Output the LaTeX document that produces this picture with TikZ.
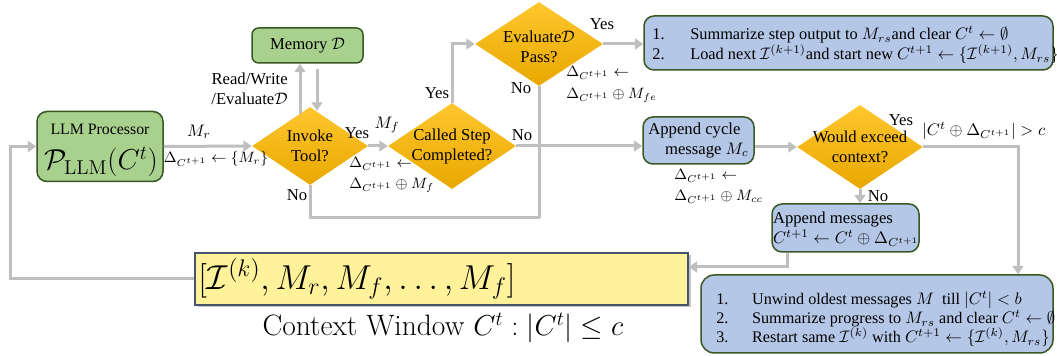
\documentclass[tikz,border=0pt]{standalone}
\usepackage{fontspec}
\newfontfamily\tnr{Liberation Serif}
\usetikzlibrary{shapes.geometric,arrows.meta,calc,shadows}
\definecolor{lncol}{HTML}{BFBFBF}
\definecolor{gfill}{HTML}{A9D18E}
\definecolor{gdraw}{HTML}{385723}
\definecolor{bfill}{HTML}{B4C7E7}
\definecolor{yfill}{HTML}{FFF29B}
\definecolor{ydraw}{HTML}{44546A}
\definecolor{dtop}{HTML}{FFC62E}
\definecolor{dbot}{HTML}{E8A800}
\tikzset{
  arr/.style={draw=lncol, line width=1.8pt, -{Triangle[length=5pt,width=6.5pt]}},
  plain/.style={draw=lncol, line width=1.8pt},
  lbl/.style={font=\tnr, inner sep=0pt},
  dlt/.style={font=\small, inner sep=0pt, anchor=west},
  dia/.style={diamond, shade, top color=dtop, bottom color=dbot, inner sep=0pt},
  dtext/.style={font=\tnr, align=center},
  gbox/.style={rectangle, rounded corners=6pt, draw=gdraw, fill=gfill, line width=0.9pt, font=\tnr, inner sep=0pt},
  bbox/.style={rectangle, rounded corners=6pt, draw=gdraw, fill=bfill, line width=0.9pt, font=\tnr, inner sep=0pt},
}
\begin{document}
\begin{tikzpicture}[x=0.6pt,y=-0.6pt]
\useasboundingbox (0,0) rectangle (1057,356);

% boxes
\node[gbox, minimum width=75.6pt, minimum height=42pt] (llm) at (100,146.5) {};
\node[font={\tnr\fontsize{9.5}{11}\selectfont}, inner sep=0pt] (llmt1) at (100,129) {LLM Processor};
\node[inner sep=0pt] (llmt2) at (101,162) {\LARGE $\mathcal{P}_{\mathrm{LLM}}(C^t)$};
\node[gbox, rounded corners=4pt, minimum width=66.6pt, minimum height=21pt] (mem) at (307.5,45.5) {Memory $\mathcal{D}$};
\node[dia, minimum width=69.6pt, minimum height=46.8pt, label={[dtext]center:Invoke\\Tool?}] (invoke) at (310,146) {};
\node[dia, minimum width=76.8pt, minimum height=51.6pt, label={[dtext]center:Called Step\\Completed?}] (called) at (452,146) {};
\node[dia, minimum width=76.8pt, minimum height=50.4pt, label={[dtext,yshift=-2pt]center:Evaluate$\mathcal{D}$\\Pass?}] (eval) at (539,44) {};
\node[bbox, minimum width=245.4pt, minimum height=32.4pt] (sum1) at (848.5,43) {};
\node[font={\tnr\fontsize{9.8}{12}\selectfont}, align=left, anchor=west, inner sep=0pt] (sum1txt) at (652,45)
  {\makebox[22.8pt][l]{1.}Summarize step output to $M_{rs}$and clear $C^t \leftarrow \emptyset$\\
   \makebox[22.8pt][l]{2.}Load next $\mathcal{I}^{(k+1)}$and start new $C^{t+1} \leftarrow \{\mathcal{I}^{(k+1)}, M_{rs}\}$};
\node[bbox, minimum width=66.6pt, minimum height=28.2pt, align=left] (cycle) at (698.5,140.5)
  {Append cycle\\\hspace*{10pt}message $M_c$};
\node[dia, minimum width=75.6pt, minimum height=50.4pt, label={[dtext]center:Would exceed\\context?}] (exceed) at (860,147) {};
\node[bbox, minimum width=88.2pt, minimum height=28.8pt] (appmsg) at (845.5,228) {};
\node[font=\tnr, align=left, inner sep=0pt] (appmsgtxt) at (846,229)
  {Append messages\\{\fontsize{10.3}{13}\selectfont $C^{t+1} \leftarrow C^t \oplus \Delta_{C^{t+1}}$}};
\node[rectangle, draw=ydraw, fill=yfill, line width=0.9pt, minimum width=295.8pt, minimum height=31.2pt,
  drop shadow={opacity=0.45, shadow xshift=1.5pt, shadow yshift=-1.5pt}] (ctx) at (441.5,279) {};
\node[anchor=west, inner sep=0pt] (ctxtxt) at (198,279) {\fontsize{19.5}{23}\selectfont $[\mathcal{I}^{(k)}, M_r, M_f, \ldots, M_f]$};
\node[inner sep=0pt] (ctxlbl) at (443,328) {\fontsize{17.7}{21}\selectfont Context Window $C^t : |C^t| \le c$};
\node[bbox, rounded corners=8pt, minimum width=211.2pt, minimum height=46.8pt] (unwind) at (877,314) {};
\node[font={\tnr\fontsize{9.7}{11.4}\selectfont}, align=left, anchor=west, inner sep=0pt] (unwindtxt) at (716,319)
  {\makebox[21.5pt][l]{1.}Unwind oldest messages $M$\ \ till $|C^t| < b$\\
   \makebox[21.5pt][l]{2.}Summarize progress to $M_{rs}$ and clear $C^t \leftarrow \emptyset$\\
   \makebox[21.5pt][l]{3.}Restart same $\mathcal{I}^{(k)}$ with $C^{t+1} \leftarrow \{\mathcal{I}^{(k)}, M_{rs}\}$};

% coordinates
\coordinate (fbl) at (10,278);
\coordinate (nojoin) at (540,218);
\coordinate (yc) at (1018,147);
\coordinate (am) at (787,267);

% connectors
\draw[arr] (ctx.west) -- (ctx.west -| fbl) |- (llm.west);
\draw[arr] (llm.east) -- (invoke.west);
\draw[arr] ($(invoke.north)+(-10,7)$) -- ($(mem.south)+(-7.5,0)$);
\draw[arr] ($(mem.south)+(9.5,5)$) -- ($(invoke.north)+(7,4)$);
\draw[arr] (invoke.east) -- (called.west);
\draw[plain] (invoke.south) |- (nojoin);
\draw[plain] (eval.south) -- (eval.south |- nojoin);
\draw[arr] (called.north) |- (eval.west);
\draw[arr] (called.east) -- (called.east -| cycle.west);
\draw[arr] (eval.east) -- (eval.east -| sum1.west);
\draw[arr] (exceed.west -| cycle.east) -- (exceed.west);
\draw[arr] (exceed.east) -- (yc) -- (yc |- unwind.north);
\draw[arr] (exceed.south) -- (exceed.south |- appmsg.north);
\draw[arr] (appmsg.south -| am) -- (am) -- (am -| ctx.east);

% labels
\node[inner sep=0pt] (lmr) at (199,132) {$M_r$};
\node[font=\small, inner sep=0pt] (ldr) at (216,159) {$\Delta_{C^{t+1}} \leftarrow \{M_r\}$};
\node[lbl, align=right, anchor=east] (lrw) at (288,89) {Read/Write\\/Evaluate$\mathcal{D}$};
\node[lbl] (ly1) at (357,133) {Yes};
\node[inner sep=0pt] (lmf) at (387,125) {$M_f$};
\node[dlt] (ldf1) at (349,164) {$\Delta_{C^{t+1}} \leftarrow$};
\node[dlt] (ldf2) at (349,185) {$\Delta_{C^{t+1}} \oplus M_f$};
\node[lbl] (ln1) at (297,195) {No};
\node[lbl] (ly2) at (437,93) {Yes};
\node[lbl] (ln2) at (522,135) {No};
\node[lbl] (ln3) at (521,88) {No};
\node[lbl] (ly3) at (602,24) {Yes};
\node[dlt] (ldfe1) at (566,73) {$\Delta_{C^{t+1}} \leftarrow$};
\node[dlt] (ldfe2) at (566,95) {$\Delta_{C^{t+1}} \oplus M_{fe}$};
\node[dlt] (ldcc1) at (674,176) {$\Delta_{C^{t+1}} \leftarrow$};
\node[dlt] (ldcc2) at (674,197) {$\Delta_{C^{t+1}} \oplus M_{cc}$};
\node[lbl] (ly4) at (901,120) {Yes};
\node[inner sep=0pt, anchor=west] (lgt) at (922,131) {$|C^t \oplus \Delta_{C^{t+1}}| > c$};
\node[lbl] (ln4) at (878,196) {No};
\end{tikzpicture}
\end{document}
